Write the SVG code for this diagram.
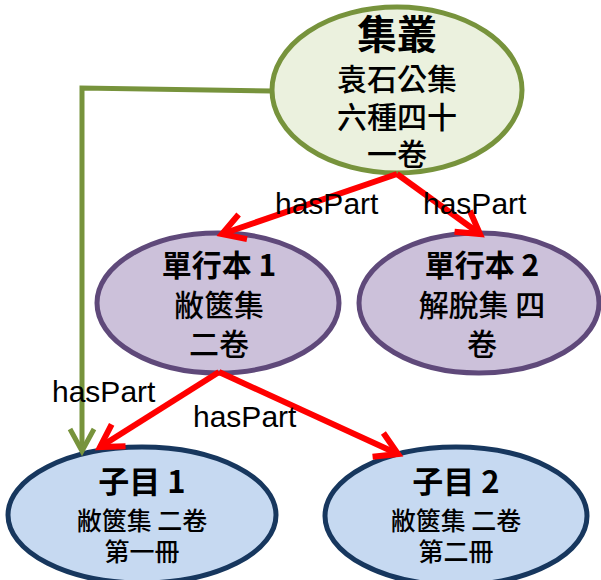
<svg xmlns="http://www.w3.org/2000/svg" width="601" height="580" viewBox="0 0 601 580">
<defs>
<style>
.top{fill:#ebf1de;stroke:#77933c;stroke-width:5}
.mid{fill:#ccc1da;stroke:#5f497a;stroke-width:5}
.bot{fill:#c6d9f1;stroke:#17375e;stroke-width:5}
.t{font-family:"Noto Sans CJK TC","Noto Sans CJK SC",sans-serif;fill:#000;text-anchor:middle;font-weight:500}
.b{font-weight:bold}
.red{fill:none;stroke:#ff0000;stroke-width:6}
.grn{fill:none;stroke:#77933c;stroke-width:5}
.lbl{font-family:"Liberation Sans",Arial,sans-serif;font-size:30px;fill:#000}
</style>
<marker id="ar" markerUnits="userSpaceOnUse" markerWidth="40" markerHeight="40" viewBox="-30 -20 40 40" refX="0" refY="0" orient="auto">
<path d="M-22,-13 L0,0 L-22,13" fill="none" stroke="#ff0000" stroke-width="6"/>
</marker>
<marker id="ag" markerUnits="userSpaceOnUse" markerWidth="40" markerHeight="40" viewBox="-30 -20 40 40" refX="0" refY="0" orient="auto">
<path d="M-22,-12 L0,0 L-22,12" fill="none" stroke="#77933c" stroke-width="5"/>
</marker>
</defs>
<g id="n-top">
<ellipse class="top" cx="397" cy="90" rx="125" ry="83"/>
<text class="t b" x="397" y="49" font-size="40">集叢</text>
<text class="t" x="397" y="90" font-size="30">袁石公集</text>
<text class="t" x="397" y="128" font-size="30">六種四十</text>
<text class="t" x="397" y="165" font-size="30">一卷</text>
</g>
<g id="n-mid1">
<ellipse class="mid" cx="218" cy="303" rx="121" ry="70"/>
<text class="t b" x="219" y="276" font-size="30">單行本 1</text>
<text class="t" x="219" y="316" font-size="30">敝篋集</text>
<text class="t" x="219" y="355" font-size="30">二卷</text>
</g>
<g id="n-mid2">
<ellipse class="mid" cx="479" cy="303" rx="120" ry="70"/>
<text class="t b" x="482" y="276" font-size="30">單行本 2</text>
<text class="t" x="482" y="316" font-size="30">解脫集 四</text>
<text class="t" x="482" y="355" font-size="30">卷</text>
</g>
<g id="n-bot1">
<ellipse class="bot" cx="142" cy="515" rx="134" ry="68"/>
<text class="t b" x="142" y="493" font-size="31">子目 1</text>
<text class="t" x="142" y="530" font-size="25">敝篋集 二卷</text>
<text class="t" x="142" y="561" font-size="25">第一冊</text>
</g>
<g id="n-bot2">
<ellipse class="bot" cx="456" cy="516" rx="131" ry="69"/>
<text class="t b" x="456" y="493" font-size="31">子目 2</text>
<text class="t" x="456" y="530" font-size="25">敝篋集 二卷</text>
<text class="t" x="456" y="561" font-size="25">第二冊</text>
</g>
<g id="connectors">
<path class="grn" d="M272,91 L82,88 L82,451" marker-end="url(#ag)"/>
<path class="red" d="M397,174 L222,234" marker-end="url(#ar)"/>
<path class="red" d="M397,174 L480,234" marker-end="url(#ar)"/>
<path class="red" d="M219,372 L100,447" marker-end="url(#ar)"/>
<path class="red" d="M219,372 L398,454" marker-end="url(#ar)"/>
<text class="lbl" x="275" y="214">hasPart</text>
<text class="lbl" x="423" y="214">hasPart</text>
<text class="lbl" x="52" y="402">hasPart</text>
<text class="lbl" x="193" y="427">hasPart</text>
</g>
</svg>
